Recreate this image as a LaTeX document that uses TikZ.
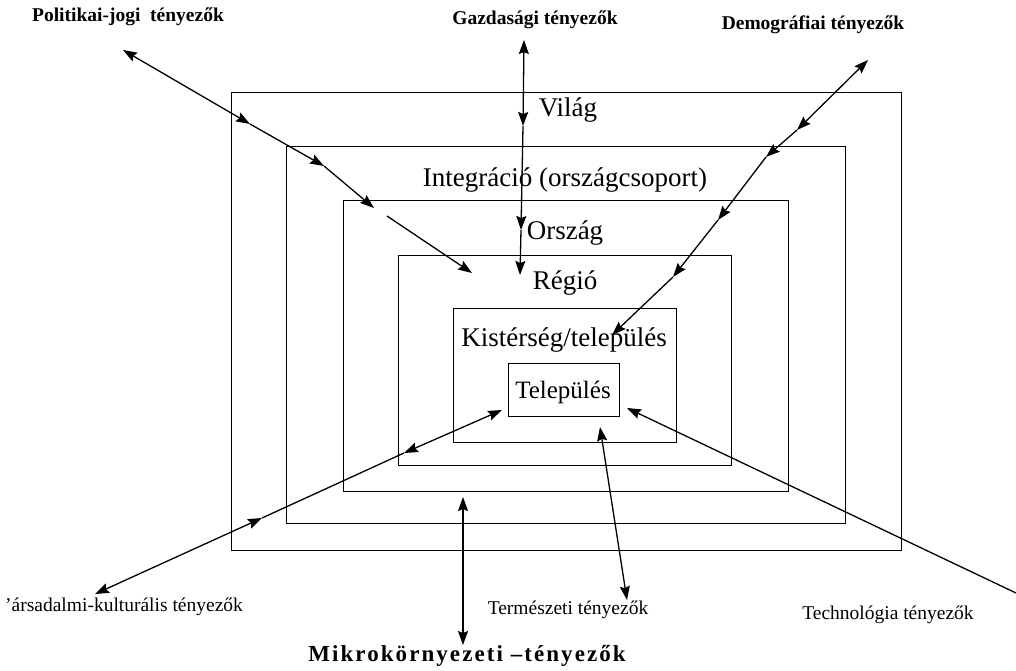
\documentclass[tikz,border=0pt]{standalone}
\usepackage{fontspec}
\setmainfont{Liberation Serif}
\usetikzlibrary{arrows.meta}
\begin{document}
\begin{tikzpicture}[x=1pt,y=-1pt,
  >={Stealth[length=14pt,width=10pt,inset=2pt]},
  box/.style={draw, line width=0.9pt, inner sep=0pt},
  lvl/.style={font=\fontsize{27}{30}\selectfont, inner sep=0pt},
  fac/.style={font=\fontsize{19.5}{22}\selectfont\bfseries, inner sep=0pt},
  facr/.style={font=\fontsize{19.5}{22}\selectfont, inner sep=0pt},
  con/.style={line width=1.3pt},
]
\useasboundingbox (0,0) rectangle (1016,670);

% nested boxes
\node[box, minimum width=670pt, minimum height=458pt] (vilag) at (566,321) {};
\node[box, minimum width=559pt, minimum height=377pt] (integr) at (565.5,334.5) {};
\node[box, minimum width=445pt, minimum height=291pt] (orszag) at (565.5,345.5) {};
\node[box, minimum width=333pt, minimum height=210pt] (regio) at (564.5,360) {};
\node[box, minimum width=223pt, minimum height=134pt] (kister) at (564.5,375) {};
\node[box, minimum width=111pt, minimum height=53pt] (telep) at (563.5,389.5) {};

% level labels
\node[lvl] (tvilag) at (568,110) {Világ};
\node[lvl] (tintegr) at (565,180) {Integráció (országcsoport)};
\node[lvl] (torszag) at (565,233) {Ország};
\node[lvl] (tregio) at (565,283) {Régió};
\node[lvl] (tkister) at (564,340) {Kistérség/település};
\node[lvl, font=\fontsize{25}{28}\selectfont] (ttelep) at (563,392) {Település};

% factor labels
\node[fac] (lpol) at (128,17) {Politikai-jogi\ \ tényezők};
\node[fac] (lgazd) at (535,20) {Gazdasági tényezők};
\node[fac] (ldem) at (813,25) {Demográfiai tényezők};
\node[facr, anchor=west] (ltars) at (5,607) {'ársadalmi-kulturális tényezők};
\node[facr] (lterm) at (568,610) {Természeti tényezők};
\node[facr] (ltech) at (888,615) {Technológia tényezők};
\node[fac, font=\fontsize{23}{25}\selectfont\bfseries\addfontfeatures{LetterSpace=9}] (lmikro) at (467,656) {Mikrokörnyezeti –tényezők};

% Politikai-jogi arrow
\coordinate (P0) at (123,50);
\coordinate (P1) at (250,124);
\coordinate (P2) at (324,166);
\coordinate (P3) at (374,208);
\coordinate (P3b) at (387,216);
\coordinate (P4) at (472,273);
\draw[con,<->] (P0) -- (P1);
\draw[con,->] (P1) -- (P2);
\draw[con,->] (P2) -- (P3);
\draw[con,->] (P3b) -- (P4);

% Gazdasagi arrow
\coordinate (G0) at (524,40);
\coordinate (G1) at (523,126);
\coordinate (G2) at (521,230);
\coordinate (G3) at (520,275);
\draw[con,<->] (G0) -- (G1);
\draw[con,->] (G1) -- (G2);
\draw[con,->] (G2) -- (G3);

% Demografiai arrow
\coordinate (D0) at (868,60);
\coordinate (D1) at (797,130);
\coordinate (D2) at (766,157);
\coordinate (D3) at (718,220);
\coordinate (D4) at (673,277);
\coordinate (D5) at (612,335);
\draw[con,<->] (D0) -- (D1);
\draw[con,->] (D1) -- (D2);
\draw[con,->] (D2) -- (D3);
\draw[con,->] (D3) -- (D4);
\draw[con,->] (D4) -- (D5);

% Tarsadalmi arrow
\coordinate (T0) at (95,594);
\coordinate (T1) at (262,518);
\coordinate (T2) at (404,453);
\coordinate (T3) at (502,410);
\draw[con,<->] (T0) -- (T1);
\draw[con] (T1) -- (T2);
\draw[con,<->] (T2) -- (T3);

% Mikrokornyezeti arrow
\coordinate (M0) at (463,497);
\coordinate (M1) at (463,645);
\draw[con,<->] (M0) -- (M1);

% Termeszeti arrow
\coordinate (N0) at (600,427);
\coordinate (N1) at (627,600);
\draw[con,<->] (N0) -- (N1);

% Technologia arrow
\coordinate (K0) at (1016,593);
\coordinate (K1) at (627,408);
\draw[con,->] (K0) -- (K1);
\end{tikzpicture}
\end{document}
